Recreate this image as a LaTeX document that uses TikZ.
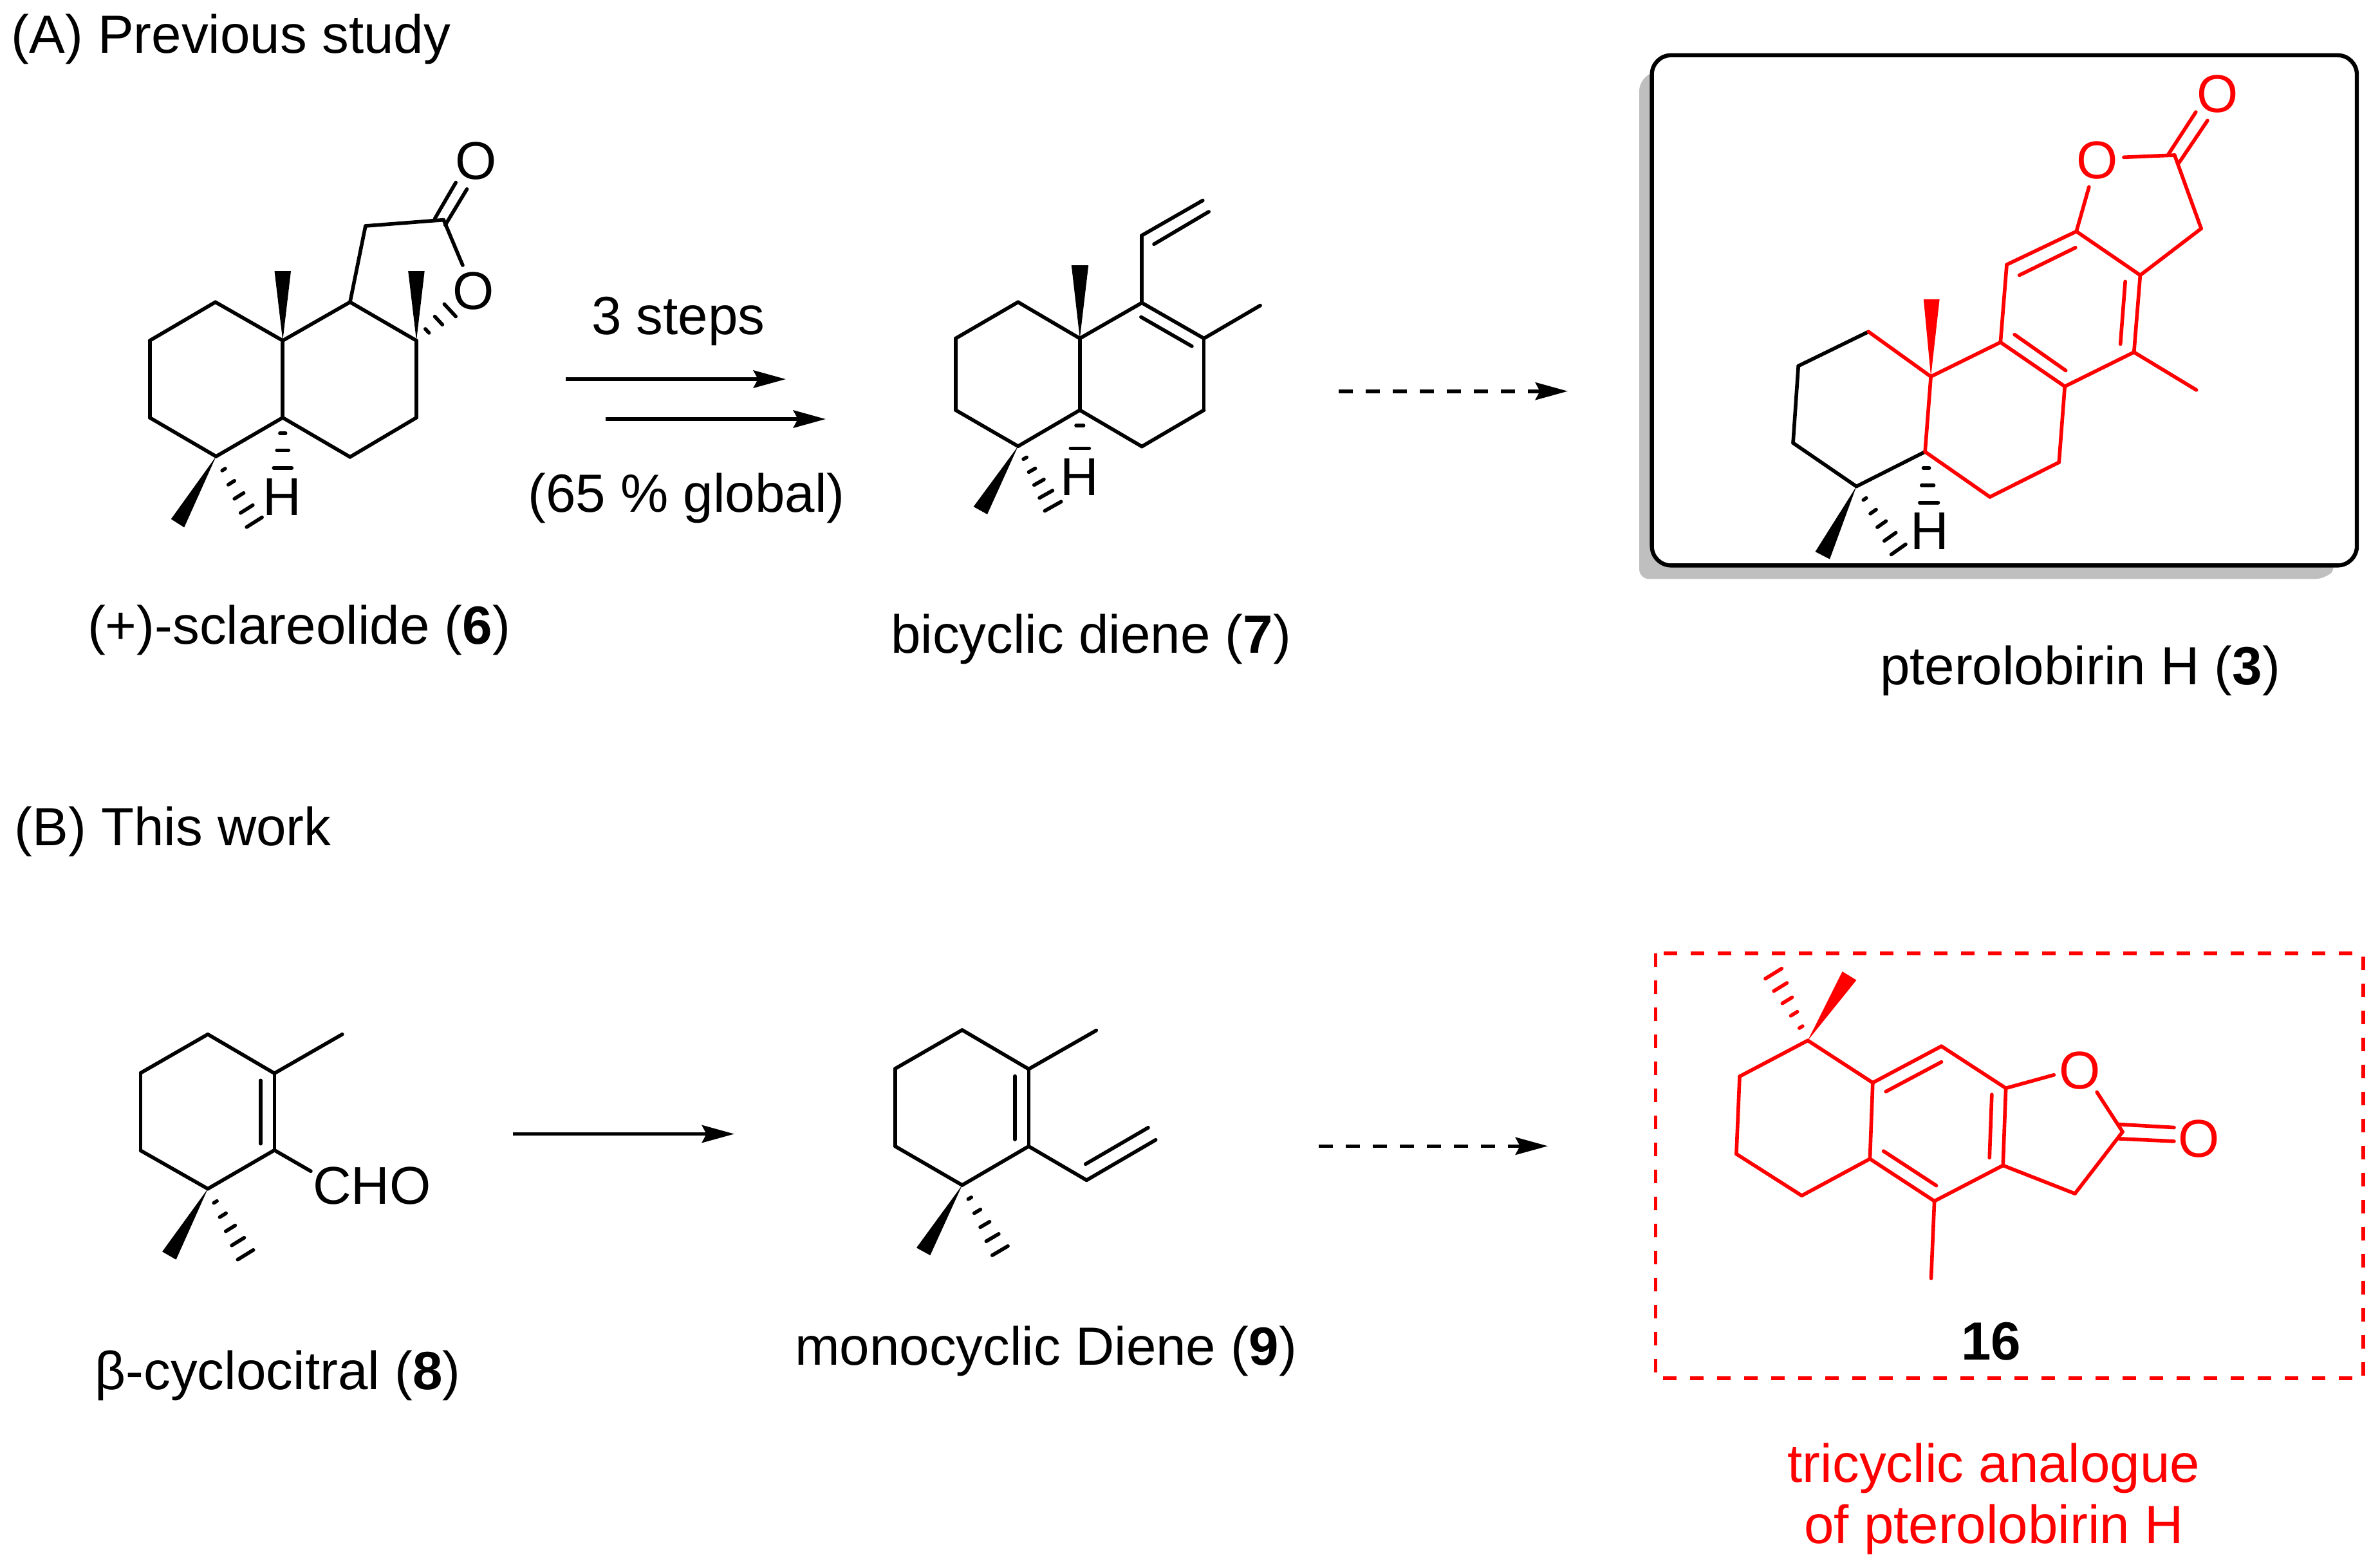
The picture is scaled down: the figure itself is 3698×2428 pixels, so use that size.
\documentclass[tikz,border=0pt]{standalone}
\usepackage{fontspec}
\setmainfont{Liberation Sans}
\usetikzlibrary{calc}
\usetikzlibrary{arrows.meta}
\definecolor{shadow_gray}{gray}{0.75}
\tikzset{
	node_text/.style = {
		inner sep=0pt,
		anchor=base,
		font=\fontsize{23.75pt}{28pt}\selectfont
	},
	node_head/.style = {
		node_text,
		anchor=base west
	},
	node_red/.style = {
		node_text,
		red
	},
	node_atom/.style = {
		inner sep=0pt,
		font=\fontsize{23.5pt}{28pt}\selectfont
	},
	node_atom_red/.style = {
		node_atom,
		red
	},
	bond/.style = {
		line width=1.6pt,
		line cap=round,
		line join=miter
	},
	bond_red/.style = {
		bond,
		red
	},
	arrow_line/.style = {
		line width=1.6pt,
		-{Stealth[length=14.3pt,width=7.7pt,inset=2pt]}
	},
	arrow_dash/.style = {
		arrow_line,
		dash pattern=on 6.2pt off 5.75pt
	},
	box_frame/.style = {
		line width=1.8pt,
		rounded corners=0.3cm,
		fill=white
	},
	box_dash/.style = {
		red,
		line width=1.6pt,
		dash pattern=on 5.97pt off 5.97pt
	},
}
\newcommand{\hashbond}[5][black]{
	\foreach \t in {#5}
		\draw[bond,#1] ($(#2)!\t!(#3)$) -- ($(#2)!\t!(#4)$);
}
\newcommand{\wedgebond}[4][black]{
	\fill[#1] (#2) -- (#3) -- (#4) -- cycle;
}

\begin{document}
\begin{tikzpicture}[x=0.01cm,y=-0.01cm]
\useasboundingbox (0,0) rectangle (3698,2428);

% headings
\node [node_head] (head_a) at (17,83) {(A) Previous study};
\node [node_head] (head_b) at (22,1313) {(B) This work};

% (+)-sclareolide
\foreach \n/\x/\y in {a/334.7/469.3, b/232.7/529.1, c/232.7/648.8, d/335.7/709, e/439.3/648.8,
	f/439.3/529.1, g/543.9/469.3, h/647/529.1, i/647/648.8, j/543.9/709.9, k/567.9/351, l/689.3/341.6,
	o1/718.9/412.1, p1/675.5/339.8, p2/708.2/283.6, p3/691.8/349.6, p4/725.5/293.8,
	w1/426.5/421.1, w2/452/421.1, w3/634.2/421.1, w4/659.7/421.1, w5/265.8/806.3, w6/286.2/819.3,
	h1/690.3/472.4, h2/708.2/491.6, h3/425.3/726.9, h4/453.3/726.9, h5/383.2/818.8, h6/407.1/803.7}
	\coordinate (s_\n) at (\x,\y);
\foreach \p/\q in {a/b, b/c, c/d, d/e, e/f, f/a, f/g, g/h, h/i, i/j, j/e, g/k, k/l, l/o1, p1/p2, p3/p4}
	\draw[bond] (s_\p) -- (s_\q);
\node [node_atom] (s_o_co) at (739.3,250.5) {O};
\node [node_atom] (s_o_ring) at (735.2,452.3) {O};
\node [node_atom] (s_hyd) at (438.3,772.4) {H};
\wedgebond{s_f}{s_w1}{s_w2}
\wedgebond{s_h}{s_w3}{s_w4}
\wedgebond{s_d}{s_w5}{s_w6}
\hashbond{s_h}{s_h1}{s_h2}{.32,.66,1}
\hashbond{s_e}{s_h3}{s_h4}{.31,.65,1}
\hashbond{s_d}{s_h5}{s_h6}{.2,.4,.6,.8,1}
\node [node_text] (s_name) at (464.5,1000) {(+)-sclareolide (\textbf{6})};

% first arrows
\coordinate (ar1_a) at (879,589);
\coordinate (ar1_b) at (1221,589);
\coordinate (ar2_a) at (941,651);
\coordinate (ar2_b) at (1283,651);
\draw[arrow_line] (ar1_a) -- (ar1_b);
\draw[arrow_line] (ar2_a) -- (ar2_b);
\node [node_text] (ar_top) at (1054,520) {3 steps};
\node [node_text] (ar_bot) at (1066.7,795) {(65 \% global)};

% bicyclic diene
\foreach \n/\x/\y in {a/1581.8/469.3, b/1484.9/525.7, c/1484.9/637.1, d/1581.8/693.2, e/1677.8/637.1,
	f/1677.8/525.7, g/1774.2/470.4, h/1870.6/525.7, i/1870.6/637.1, j/1774.2/693.6, v1/1774.2/365.7,
	v2/1868.8/311.4, v3/1793/379.3, v4/1878.2/328.9, m/1958.1/474.6, i1/1772.9/492.5, i2/1851.9/537.9,
	w1/1664.8/412.1, w2/1691.2/412.1, w3/1512.6/787.1, w4/1534/798.9,
	h1/1623.3/793.6, h2/1648.8/779.3, h3/1663.3/696.4, h4/1692.3/696.4}
	\coordinate (d_\n) at (\x,\y);
\foreach \p/\q in {a/b, b/c, c/d, d/e, e/f, f/a, f/g, g/h, h/i, i/j, j/e, g/v1, v1/v2, v3/v4, h/m, i1/i2}
	\draw[bond] (d_\p) -- (d_\q);
\node [node_atom] (d_hyd) at (1676.9,741.4) {H};
\wedgebond{d_f}{d_w1}{d_w2}
\wedgebond{d_d}{d_w3}{d_w4}
\hashbond{d_d}{d_h1}{d_h2}{.2,.4,.6,.8,1}
\hashbond{d_e}{d_h3}{d_h4}{.4,1}
\node [node_text] (d_name) at (1695,1014) {bicyclic diene (\textbf{7})};

\coordinate (ar3_a) at (2080,607.7);
\coordinate (ar3_b) at (2436,607.7);
\draw[arrow_dash] (ar3_a) -- (ar3_b);

% pterolobirin H
\fill[shadow_gray, rounded corners=0.15cm] (2576,106.6) -- (2547,125.8) -- (2547,899.3) -- (3613,899.3) -- (3632,880) -- cycle;
\draw[box_frame] (2566.6,85.8) rectangle (3662,878.4);
\foreach \n/\x/\y in {a/2903.2/515.3, b/2794.2/568.5, c/2786/688.1, d/2884.4/755.6, e/2991.1/701.8,
	f/3000.1/585, g/3108.3/531.7, h/3208.2/600.3, i/3199.2/718.2, j/3091.8/772, k/3118/411.1,
	l/3226.2/359.5, m/3325.4/427.5, n/3315.7/547.1, me/3412.6/605.8, o/3420.1/355.1, p/3378.8/241,
	o1/3245.8/290.4, o2/3299.9/244.3, p1/3369/239.9, p2/3411.8/174.1, p3/3385.5/253.1, p4/3429.9/187.3,
	i1/3137.6/427.5, i2/3224.8/384.7, i3/3302.1/437.4, i4/3294.6/534.5, i5/3130.1/519.7, i6/3209.7/575.6,
	w1/2988.8/464.8, w2/3013.6/464.8, w3/2820.5/857, w4/2843/868.6,
	h1/2982.8/780.8, h2/3011.4/780.8, h3/2938.5/861.4, h4/2961/845.5}
	\coordinate (t_\n) at (\x,\y);
\foreach \p/\q in {a/b, b/c, c/d, d/e}
	\draw[bond] (t_\p) -- (t_\q);
\foreach \p/\q in {a/f, e/f, f/g, g/h, h/i, i/j, j/e, g/k, k/l, l/m, m/n, n/h, n/me, m/o, o/p, l/o1, o2/p, p1/p2, p3/p4, i1/i2, i3/i4, i5/i6}
	\draw[bond_red] (t_\p) -- (t_\q);
\node [node_atom_red] (t_o_ring) at (3258.5,249.2) {O};
\node [node_atom_red] (t_o_co) at (3445.6,146) {O};
\node [node_atom] (t_hyd) at (2998.6,825.2) {H};
\wedgebond[red]{t_f}{t_w1}{t_w2}
\wedgebond{t_d}{t_w3}{t_w4}
\hashbond{t_e}{t_h1}{t_h2}{.32,.66,1}
\hashbond{t_d}{t_h3}{t_h4}{.2,.4,.6,.8,1}
\node [node_text] (t_name) at (3232,1063) {pterolobirin H (\textbf{3})};

% beta-cyclocitral
\foreach \n/\x/\y in {a/322.9/1606.7, b/218.6/1666.7, c/218.6/1787.3, d/322.9/1846.7, e/426.4/1786.7,
	f/426.4/1667.3, m/531.8/1606.7, cho/482.9/1819.3, i1/405/1678.3, i2/405/1776.7,
	w1/252.1/1944.3, w2/273.6/1956.7, h1/369.3/1956.7, h2/393.6/1941.7}
	\coordinate (c_\n) at (\x,\y);
\foreach \p/\q in {a/b, b/c, c/d, d/e, e/f, f/a, f/m, e/cho, i1/i2}
	\draw[bond] (c_\p) -- (c_\q);
\node [node_atom] (c_ald) at (577.9,1841.7) {CHO};
\wedgebond{c_d}{c_w1}{c_w2}
\hashbond{c_d}{c_h1}{c_h2}{.2,.4,.6,.8,1}
\node [node_text] (c_name) at (431.5,2158) {β-cyclocitral (\textbf{8})};

\coordinate (ar4_a) at (797,1761.5);
\coordinate (ar4_b) at (1141,1761.5);
\draw[arrow_line] (ar4_a) -- (ar4_b);

% monocyclic diene
\foreach \n/\x/\y in {a/1495/1600, b/1391/1660, c/1391/1780.7, d/1495/1841, e/1598.3/1780.7,
	f/1598.3/1660.7, m/1703.3/1600.7, v1/1688.3/1833.3, v2/1795.7/1770.7, v3/1686.7/1808.3, v4/1784/1751.7,
	i1/1577/1671.7, i2/1577/1770, w1/1424/1938.3, w2/1445.3/1950, h1/1541.7/1950, h2/1566/1935.7}
	\coordinate (m_\n) at (\x,\y);
\foreach \p/\q in {a/b, b/c, c/d, d/e, e/f, f/a, f/m, e/v1, v1/v2, v3/v4, i1/i2}
	\draw[bond] (m_\p) -- (m_\q);
\wedgebond{m_d}{m_w1}{m_w2}
\hashbond{m_d}{m_h1}{m_h2}{.2,.4,.6,.8,1}
\node [node_text] (m_name) at (1625,2120) {monocyclic Diene (\textbf{9})};

\coordinate (ar5_a) at (2048.7,1780.3);
\coordinate (ar5_b) at (2405,1780.3);
\draw[arrow_dash] (ar5_a) -- (ar5_b);

% tricyclic analogue
\draw[box_dash] (2572.3,1481) rectangle (3671.7,2140.8);
\foreach \n/\x/\y in {a/2703/1672.1, b/2697.9/1792.6, c/2799.5/1857.3, d/2905.4/1800.2, e/2909.8/1681.9,
	f/2808.9/1616.3, g/3016.5/1625.2, h/3116.6/1690.4, i/3112.2/1810.4, j/3005.6/1865.8, me/3000.5/1985.7,
	k/3224/1854.2, l/3298/1758.2, o1/3191.3/1669.8, o2/3258.1/1696.6, p1/3293/1746.6, p2/3377.9/1751.5,
	p3/3293/1768.9, p4/3377.9/1772.9, i1/2930.1/1695.7, i2/3016.5/1649.7, i3/3094.8/1700.2, i4/3091.2/1798.4,
	i5/2926.5/1788.1, i6/3008.5/1841.7, w1/2862.6/1509.1, w2/2884.4/1522.5, h1/2742.9/1520.3, h2/2768.3/1504.6}
	\coordinate (n_\n) at (\x,\y);
\foreach \p/\q in {a/b, b/c, c/d, d/e, e/f, f/a, e/g, g/h, h/i, i/j, j/d, j/me, i/k, k/l, h/o1, l/o2, p1/p2, p3/p4, i1/i2, i3/i4, i5/i6}
	\draw[bond_red] (n_\p) -- (n_\q);
\node [node_atom_red] (n_o_ring) at (3231.3,1662.9) {O};
\node [node_atom_red] (n_o_co) at (3417,1768.7) {O};
\wedgebond[red]{n_f}{n_w1}{n_w2}
\hashbond[red]{n_f}{n_h1}{n_h2}{.2,.4,.6,.8,1}
\node [node_text] (n_num) at (3093.5,2112) {\textbf{16}};
\node [node_red] (n_name1) at (3098,2302) {tricyclic analogue};
\node [node_red] (n_name2) at (3098,2397) {of pterolobirin H};
\end{tikzpicture}
\end{document}
